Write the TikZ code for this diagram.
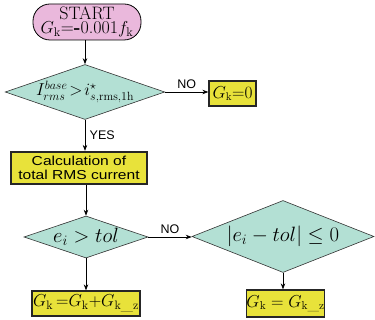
\documentclass[tikz,border=0pt]{standalone}
\usepackage{fontspec}
\newfontfamily\labelfont{Liberation Sans}
\usetikzlibrary{shapes.geometric,arrows.meta}
\definecolor{startpink}{HTML}{EAB8DC}
\definecolor{decteal}{HTML}{B3E0D4}
\definecolor{boxyellow}{HTML}{E8E23A}
\begin{document}
\begin{tikzpicture}[x=1pt,y=-1pt,
  arr/.style={-{Stealth[length=6pt,width=4.5pt]},line width=0.7pt},
  startbox/.style={draw=black,fill=startpink,rounded corners=17pt,line width=0.8pt,inner sep=0pt,align=center},
  decision/.style={diamond,draw=black!80,fill=decteal,line width=0.6pt,inner sep=0pt},
  yelbox/.style={draw=black!85,fill=boxyellow,line width=1.3pt,inner sep=0pt},
  lbl/.style={font=\labelfont\fontsize{12.5}{13}\selectfont}]
\useasboundingbox (0,0) rectangle (375,320);
\node[startbox,minimum width=108pt,minimum height=36pt,font=\fontsize{18}{14.5}\selectfont] (start) at (87,22)
  {START\\$G_\mathrm{k}$=\textbf{-}0.001$f_\mathrm{k}$};
\node[decision,minimum width=156pt,minimum height=54pt,aspect=2.9] (d1) at (85,92)
  {\fontsize{17}{17}\selectfont$I^{base}_{rms}\!>\!i^{\star}_{s,\mathrm{rms},1\mathrm{h}}$};
\node[yelbox,minimum width=47pt,minimum height=25pt,font=\fontsize{16}{16}\selectfont] (g0) at (232.5,93.5)
  {$G_\mathrm{k}{=}0$};
\node[yelbox,line width=2.2pt,minimum width=136pt,minimum height=32pt,align=center,
  font=\labelfont\fontsize{13}{14}\selectfont] (calc) at (79,168)
  {\scalebox{1.2}[1]{Calculation of}\\\scalebox{1.2}[1]{total RMS current}};
\node[decision,minimum width=124pt,minimum height=42pt,aspect=2.95] (d2) at (86,237)
  {\fontsize{22.5}{22.5}\selectfont$e_i > tol$};
\node[decision,minimum width=182pt,minimum height=72pt,aspect=2.5] (d3) at (283,236.5)
  {\fontsize{22.5}{22.5}\selectfont$|e_i - tol| \leq 0$};
\node[yelbox,minimum width=108pt,minimum height=25pt,font=\fontsize{17.5}{17.5}\selectfont] (b1) at (86,303.5)
  {$G_\mathrm{k}\,{=}G_\mathrm{k}{+}G_{\mathrm{k\_z}}$};
\node[yelbox,minimum width=77pt,minimum height=27pt,font=\fontsize{16.5}{16.5}\selectfont] (b2) at (285.5,303.5)
  {$G_\mathrm{k} = G_{\mathrm{k\_z}}$};
\draw[arr] (start.south -| d1.north) -- (d1.north);
\draw[arr] (d1.east) -- (g0.west |- d1.east) node[lbl,midway,above=0pt] {NO};
\draw[arr] (d1.south) -- (d1.south |- calc.north) node[lbl,midway,right=1pt] {YES};
\draw[arr] (calc.south -| d2.north) -- (d2.north);
\draw[arr] (d2.south) -- (b1.north);
\draw[arr] (d2.east) -- (d3.west |- d2.east) node[lbl,midway,above=0pt] {NO};
\draw[arr] (d3.south) -- (d3.south |- b2.north);
\end{tikzpicture}
\end{document}
